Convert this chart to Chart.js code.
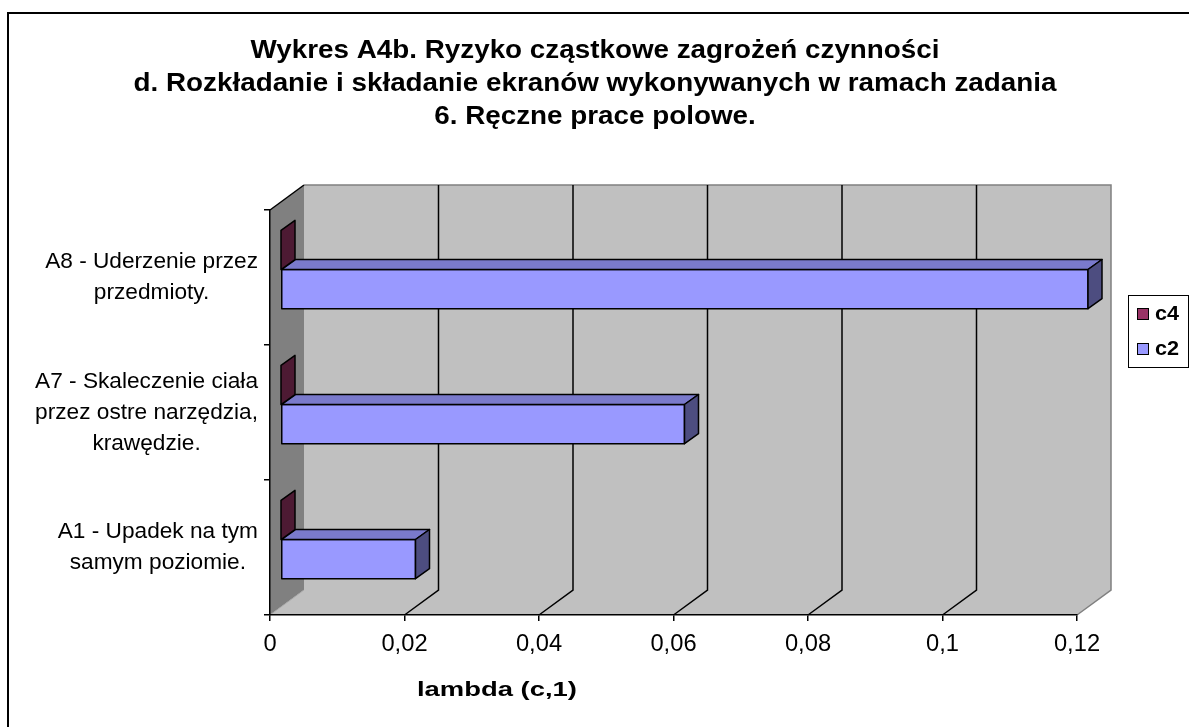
<!DOCTYPE html>
<html>
<head>
<meta charset="utf-8">
<script src="https://cdn.jsdelivr.net/npm/chart.js@4.4.0/dist/chart.umd.min.js"></script>
<style>
  html, body { margin: 0; padding: 0; background: #fff; }
</style>
</head>
<body>
<canvas id="chart" width="1189" height="727"></canvas>
<script>
// chart data (top category first, as Chart.js lists them top-down on a y axis)
const categories = [
    ['A8 - Uderzenie przez', 'przedmioty.'],
    ['A7 - Skaleczenie ciała', 'przez ostre narzędzia,', 'krawędzie.'],
    ['A1 - Upadek na tym', 'samym poziomie.']
];
const seriesNames = ['c4', 'c2'];
const c4Values = [0, 0, 0];
const c2Values = [0.12, 0.06, 0.02];
const xTicks = [0, 0.02, 0.04, 0.06, 0.08, 0.1, 0.12];
const titleLines = [
    'Wykres A4b. Ryzyko cząstkowe zagrożeń czynności',
    'd. Rozkładanie i składanie ekranów wykonywanych w ramach zadania',
    '6. Ręczne prace polowe.'
];
const xAxisTitle = 'lambda (c,1)';

const FONT = '"Liberation Sans", Arial, sans-serif';
const SX = 1.03;             // the original text is drawn a bit wide
const WALL = { dx: 34, dy: -25 };
const BAR_FRONT = { dx: 11, dy: -8 };
const BAR_DEPTH = { dx: 14, dy: -10 };

const colors = {
    c4: ['#993366', '#7a2952', '#4d1a33'],
    c2: ['#9999ff', '#7a7acc', '#4d4d80']
};

function drawText(ctx, s, x, y, font, align, sx) {
    ctx.save();
    ctx.font = font;
    ctx.fillStyle = '#000';
    ctx.textBaseline = 'middle';
    ctx.textAlign = align || 'center';
    ctx.translate(x, y);
    ctx.scale(sx || SX, 1);
    ctx.fillText(s, 0, 0);
    ctx.restore();
}

function poly(ctx, pts, fill, stroke, lw) {
    ctx.beginPath();
    ctx.moveTo(pts[0][0], pts[0][1]);
    for (let i = 1; i < pts.length; i++) ctx.lineTo(pts[i][0], pts[i][1]);
    ctx.closePath();
    if (fill) { ctx.fillStyle = fill; ctx.fill(); }
    if (stroke) { ctx.strokeStyle = stroke; ctx.lineWidth = lw || 1; ctx.stroke(); }
}

function line(ctx, pts, color, lw) {
    ctx.beginPath();
    ctx.moveTo(pts[0][0], pts[0][1]);
    for (let i = 1; i < pts.length; i++) ctx.lineTo(pts[i][0], pts[i][1]);
    ctx.strokeStyle = color;
    ctx.lineWidth = lw || 1;
    ctx.stroke();
}

// fit a string to a width measured on the reference
function fitScale(ctx, s, font, width) {
    ctx.save();
    ctx.font = font;
    const k = width / ctx.measureText(s).width;
    ctx.restore();
    return k;
}

const excel3d = {
    id: 'excel3d',
    beforeDraw(chart) {
        const ctx = chart.ctx;
        const a = chart.chartArea;
        const xs = chart.scales.x;
        const L = a.left, R = a.right, T = a.top, B = a.bottom;
        const dx = WALL.dx, dy = WALL.dy;
        ctx.save();
        // outer frame
        line(ctx, [[8, 727], [8, 13], [1189, 13]], '#000', 2);
        // back wall, side wall, floor
        poly(ctx, [[L + dx, T + dy], [R + dx, T + dy], [R + dx, B + dy], [L + dx, B + dy]], '#c0c0c0');
        poly(ctx, [[L, T], [L + dx, T + dy], [L + dx, B + dy], [L, B]], '#808080');
        poly(ctx, [[L, B], [R, B], [R + dx, B + dy], [L + dx, B + dy]], '#c0c0c0');
        line(ctx, [[L + dx, T + dy], [R + dx, T + dy], [R + dx, B + dy], [R, B]], '#808080', 1.5);
        line(ctx, [[L, B], [L + dx, B + dy]], '#a6a6a6', 1);
        line(ctx, [[L, T], [L + dx, T + dy]], '#000', 1.5);
        // gridlines on back wall and floor
        xTicks.slice(1, -1).forEach(v => {
            const px = xs.getPixelForValue(v);
            line(ctx, [[px + dx, T + dy], [px + dx, B + dy], [px, B]], '#000', 1.5);
        });
        ctx.restore();
    },
    beforeDatasetDraw() {
        return false;
    },
    afterDatasetsDraw(chart) {
        const ctx = chart.ctx;
        ctx.save();
        ctx.lineJoin = 'round';
        for (let d = chart.data.datasets.length - 1; d >= 0; d--) {
            const meta = chart.getDatasetMeta(d);
            const c = colors[chart.data.datasets[d].label];
            meta.data.forEach(el => {
                const p = el.getProps(['x', 'y', 'base', 'height'], true);
                const x0 = p.base + BAR_FRONT.dx, x1 = p.x + BAR_FRONT.dx;
                const y0 = p.y - p.height / 2 + BAR_FRONT.dy, y1 = p.y + p.height / 2 + BAR_FRONT.dy;
                const bx = BAR_DEPTH.dx, by = BAR_DEPTH.dy;
                if (x1 - x0 > 0.5) {
                    poly(ctx, [[x0, y0], [x1, y0], [x1, y1], [x0, y1]], c[0], '#000', 1.5);
                    poly(ctx, [[x0, y0], [x1, y0], [x1 + bx, y0 + by], [x0 + bx, y0 + by]], c[1], '#000', 1.5);
                }
                poly(ctx, [[x1, y0], [x1 + bx, y0 + by], [x1 + bx, y1 + by], [x1, y1]], c[2], '#000', 1.5);
            });
        }
        ctx.restore();
    },
    afterDraw(chart) {
        const ctx = chart.ctx;
        const xs = chart.scales.x, ys = chart.scales.y;
        ctx.save();
        // title
        const tFont = 'bold 25px ' + FONT;
        const tsx = fitScale(ctx, titleLines[0], tFont, 689);
        titleLines.forEach((s, i) => drawText(ctx, s, 595, 51 + i * 33, tFont, 'center', tsx));
        // category labels, each block centred on itself and right-aligned to the axis
        const lFont = '22px ' + FONT;
        ctx.font = lFont;
        categories.forEach((lines, i) => {
            const py = ys.getPixelForTick(i);
            const w = Math.max(...lines.map(s => ctx.measureText(s).width)) * SX;
            const cx = 258 - w / 2;
            lines.forEach((s, j) => {
                drawText(ctx, s, cx, py + (j - (lines.length - 1) / 2) * 31, lFont, 'center');
            });
        });
        // x tick labels
        xTicks.forEach(v => {
            const lab = String(v).replace('.', ',');
            drawText(ctx, lab, xs.getPixelForValue(v), 645, '23px ' + FONT, 'center');
        });
        // axis title
        const aFont = 'bold 21px ' + FONT;
        drawText(ctx, xAxisTitle, 497, 690, aFont, 'center', fitScale(ctx, xAxisTitle, aFont, 160));
        // legend
        ctx.strokeStyle = '#000';
        ctx.lineWidth = 1;
        ctx.strokeRect(1128.5, 295.5, 60, 72);
        chart.data.datasets.forEach((ds, i) => {
            const y = 314 + i * 35;
            ctx.fillStyle = ds.backgroundColor;
            ctx.fillRect(1137, y - 6, 12, 12);
            ctx.strokeRect(1137.5, y - 5.5, 11, 11);
            drawText(ctx, ds.label, 1155, y, 'bold 21px ' + FONT, 'left');
        });
        ctx.restore();
    }
};

const ctx = document.getElementById('chart').getContext('2d');
new Chart(ctx, {
    type: 'bar',
    data: {
        labels: categories,
        datasets: [
            { label: seriesNames[0], data: c4Values, backgroundColor: '#993366' },
            { label: seriesNames[1], data: c2Values, backgroundColor: '#9999ff' }
        ]
    },
    options: {
        indexAxis: 'y',
        responsive: false,
        animation: false,
        devicePixelRatio: 1,
        categoryPercentage: 0.58,
        barPercentage: 1,
        layout: { padding: { left: 0, top: 210, right: 112, bottom: 0 } },
        plugins: {
            legend: { display: false },
            title: { display: false },
            tooltip: { enabled: false }
        },
        scales: {
            x: {
                min: 0,
                max: 0.12,
                afterBuildTicks: s => { s.ticks = xTicks.map(v => ({ value: v })); },
                afterFit: s => { s.height = 112; },
                ticks: { display: false },
                grid: { display: true, drawOnChartArea: false, drawTicks: true, tickLength: 6, color: '#000', lineWidth: 1.5 },
                border: { display: true, color: '#000', width: 1.5 }
            },
            y: {
                afterFit: s => { s.width = 270; },
                ticks: { display: false },
                grid: { display: true, offset: true, drawOnChartArea: false, drawTicks: true, tickLength: 6, color: '#000', lineWidth: 1.5 },
                border: { display: true, color: '#000', width: 1.5 }
            }
        }
    },
    plugins: [excel3d]
});
</script>
</body>
</html>
